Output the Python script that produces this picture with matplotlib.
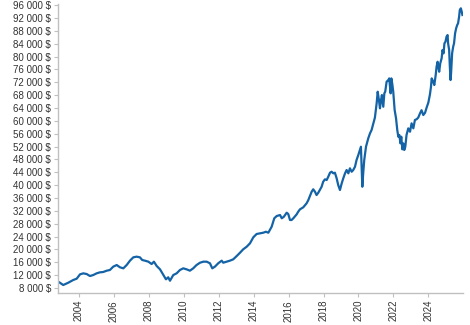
import matplotlib
matplotlib.use("Agg")
import matplotlib.pyplot as plt
from matplotlib.ticker import FuncFormatter

# portfolio value over time (decimal years)
years = [
    2002.82, 2003.10, 2003.39, 2003.67, 2003.87, 2004.06, 2004.25, 2004.44, 2004.63, 2004.82,
    2005.01, 2005.20, 2005.39, 2005.59, 2005.77, 2005.96, 2006.16, 2006.35, 2006.54, 2006.73,
    2006.92, 2007.11, 2007.30, 2007.49, 2007.62, 2007.78, 2007.97, 2008.16, 2008.29, 2008.45,
    2008.64, 2008.83, 2008.98, 2009.11, 2009.21, 2009.40, 2009.59, 2009.78, 2009.97, 2010.16,
    2010.35, 2010.54, 2010.73, 2010.93, 2011.12, 2011.31, 2011.50, 2011.63, 2011.78, 2011.97,
    2012.17, 2012.26, 2012.45, 2012.64, 2012.83, 2013.03, 2013.22, 2013.40, 2013.60, 2013.79,
    2013.98, 2014.17, 2014.36, 2014.55, 2014.70, 2014.84, 2015.03, 2015.18, 2015.32, 2015.51,
    2015.61, 2015.73, 2015.89, 2015.98, 2016.08, 2016.17, 2016.27, 2016.46, 2016.55, 2016.65,
    2016.84, 2017.03, 2017.13, 2017.32, 2017.41, 2017.51, 2017.60, 2017.70, 2017.89, 2017.98,
    2018.08, 2018.18, 2018.27, 2018.37, 2018.46, 2018.56, 2018.65, 2018.75, 2018.84, 2018.94,
    2019.04, 2019.13, 2019.23, 2019.32, 2019.42, 2019.51, 2019.61, 2019.70, 2019.80, 2019.89,
    2019.99, 2020.08, 2020.14, 2020.18, 2020.22, 2020.27, 2020.33, 2020.43, 2020.56, 2020.66,
    2020.75, 2020.85, 2020.94, 2021.04, 2021.10, 2021.17, 2021.23, 2021.29, 2021.34, 2021.42,
    2021.48, 2021.53, 2021.61, 2021.71, 2021.76, 2021.84, 2021.88, 2021.93, 2021.99, 2022.07,
    2022.15, 2022.22, 2022.28, 2022.34, 2022.40, 2022.45, 2022.51, 2022.56, 2022.62, 2022.68,
    2022.75, 2022.85, 2022.95, 2023.04, 2023.14, 2023.23, 2023.33, 2023.42, 2023.52, 2023.61,
    2023.71, 2023.81, 2023.90, 2024.00, 2024.09, 2024.15, 2024.19, 2024.28, 2024.34, 2024.42,
    2024.47, 2024.53, 2024.57, 2024.62, 2024.68, 2024.76, 2024.81, 2024.87, 2024.92, 2024.98,
    2025.04, 2025.10, 2025.13, 2025.19, 2025.23, 2025.27, 2025.30, 2025.36, 2025.42, 2025.47,
    2025.53, 2025.59, 2025.65, 2025.70, 2025.76, 2025.80, 2025.86, 2025.91, 2025.95,
]
values = [
    9960, 8930, 9650, 10490, 10900, 12250, 12560, 12350, 11730, 12040,
    12560, 12870, 12980, 13390, 13600, 14630, 15150, 14430, 14120, 15150,
    16500, 17540, 17750, 17540, 16710, 16500, 16190, 15460, 16190, 14840,
    13810, 12040, 10700, 11330, 10270, 12040, 12560, 13600, 14120, 13810,
    13390, 14120, 15150, 15870, 16190, 16190, 15680, 14120, 14630, 15680,
    16500, 15870, 16190, 16500, 16920, 17950, 18980, 20030, 20840, 21900,
    23770, 24800, 25000, 25200, 25500, 25200, 27060, 29680, 30390, 30700,
    29680, 30180, 31420, 31010, 29150, 29150, 29680, 30900, 31730, 32470,
    33100, 34340, 35370, 37950, 38700, 37950, 36920, 37640, 39500, 41060,
    41800, 41590, 42610, 43860, 44170, 43670, 43860, 42120, 40030, 38480,
    40560, 42120, 43670, 44700, 43670, 45230, 44170, 44700, 45720, 47810,
    49360, 50920, 51940, 45720, 39500, 43670, 47810, 51940, 54560, 56110,
    57140, 59220, 61000, 65440, 69050, 66470, 63890, 66470, 68020, 64380,
    68550, 69050, 72160, 72690, 73200, 68550, 73200, 71660, 69050, 63360,
    60780, 57140, 55060, 55580, 53000, 55060, 51140, 53000, 50920, 51940,
    55580, 57660, 56610, 59220, 57660, 60250, 60500, 61000, 62300, 63300,
    61800, 62500, 64100, 65700, 68200, 70600, 73200, 72160, 71130, 74240,
    76820, 78380, 76820, 75270, 77880, 79440, 82020, 80990, 84100, 84610,
    86170, 86680, 84100, 82020, 76820, 72690, 74770, 80990, 83050, 84100,
    87210, 88770, 89790, 90320, 92380, 94460, 94990, 93950, 92920,
]

x_ticks = list(range(2004, 2025, 2))
y_ticks = list(range(8000, 96001, 4000))

plt.rcParams['font.family'] = ['Liberation Sans', 'DejaVu Sans']

fig = plt.figure(figsize=(4.7, 3.25), dpi=100)
ax = fig.add_axes([0.1234, 0.0985, 0.8616, 0.8905])

ax.plot(years, values, color='#1463a6', linewidth=1.6, solid_joinstyle='round')

ax.set_xlim(2002.80, 2025.98)
ax.set_ylim(6450, 96470)

ax.set_xticks(x_ticks)
ax.set_xticklabels([str(y) for y in x_ticks], rotation=90)
ax.set_yticks(y_ticks)
ax.yaxis.set_major_formatter(FuncFormatter(lambda v, p: f"{v:,.0f} $".replace(',', ' ')))

for side in ['top', 'right']:
    ax.spines[side].set_visible(False)
for side in ['left', 'bottom']:
    ax.spines[side].set_color('#c0c0c0')
    ax.spines[side].set_linewidth(1)

ax.tick_params(axis='both', colors='#c0c0c0', labelcolor='#333333',
               labelsize=7, length=3, width=0.8, pad=2)

fig.savefig('out.png', dpi=100)
